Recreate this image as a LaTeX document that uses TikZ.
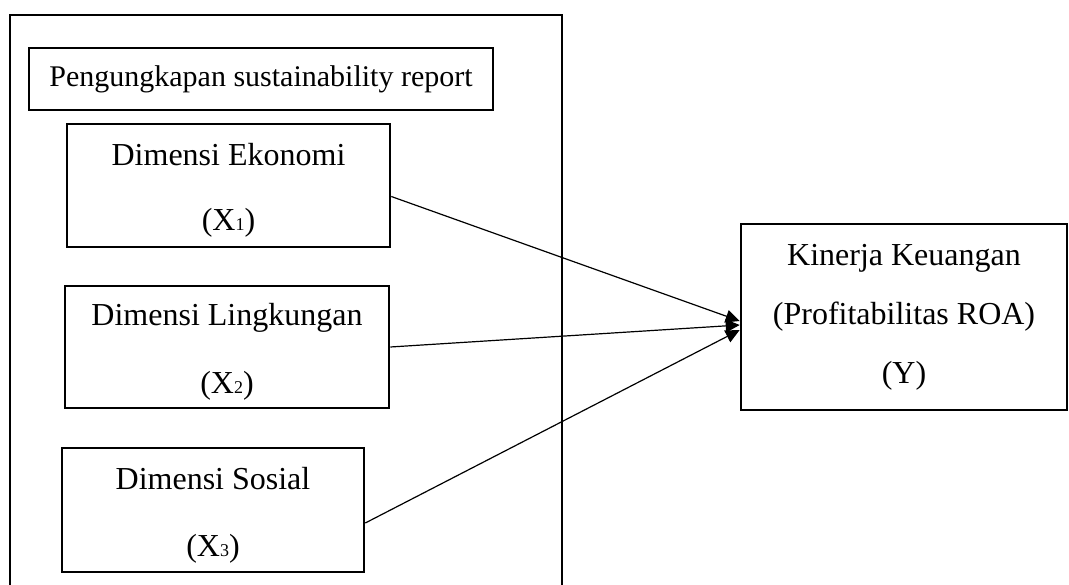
\documentclass[tikz,border=0pt]{standalone}
\usepackage{fontspec}
\setmainfont{Liberation Serif}
\usetikzlibrary{arrows.meta,calc}
\newcommand{\subidx}[1]{{\fontsize{18}{18}\selectfont #1}}
\newcommand{\topstrut}{\rule{0pt}{32pt}}
\begin{document}
\begin{tikzpicture}[x=1pt,y=-1pt,
    dimbox/.style={draw,line width=2.6pt,align=center,inner sep=0pt,
      font=\fontsize{32}{65}\selectfont},
    link/.style={line width=1.2pt,-{Triangle[length=14pt,width=13pt]}}]
  \useasboundingbox (0,0) rectangle (1069,585);
  % outer frame
  \draw[line width=2.8pt] (10,590) -- (10,15) -- (562,15) -- (562,590);
  % title
  \node[draw,line width=1.2pt,minimum width=464pt,minimum height=62pt,
    font=\fontsize{30}{34}\selectfont] (judul) at (261,79) {Pengungkapan sustainability report};
  % dimensions
  \node[dimbox,minimum width=323pt,minimum height=123pt] (eko) at (228.5,185.5)
    {\topstrut Dimensi Ekonomi\\(X\subidx{1})};
  \node[dimbox,minimum width=324pt,minimum height=122pt] (ling) at (227,347)
    {\topstrut Dimensi Lingkungan\\[3pt](X\subidx{2})};
  \node[dimbox,minimum width=302pt,minimum height=124pt] (sos) at (213,510)
    {\topstrut Dimensi Sosial\\[2pt](X\subidx{3})};
  % performance
  \node[dimbox,minimum width=326pt,minimum height=186pt,
    font=\fontsize{32}{59}\selectfont] (kin) at (904,317)
    {Kinerja Keuangan\\(Profitabilitas ROA)\\(Y)};
  % links
  \draw[link] ($(eko.east)+(0,11)$) -- ($(kin.west)+(0,4)$);
  \draw[link] (ling.east) -- ($(kin.west)+(0,8)$);
  \draw[link] ($(sos.east)+(0,13)$) -- ($(kin.west)+(0,13)$);
\end{tikzpicture}
\end{document}
